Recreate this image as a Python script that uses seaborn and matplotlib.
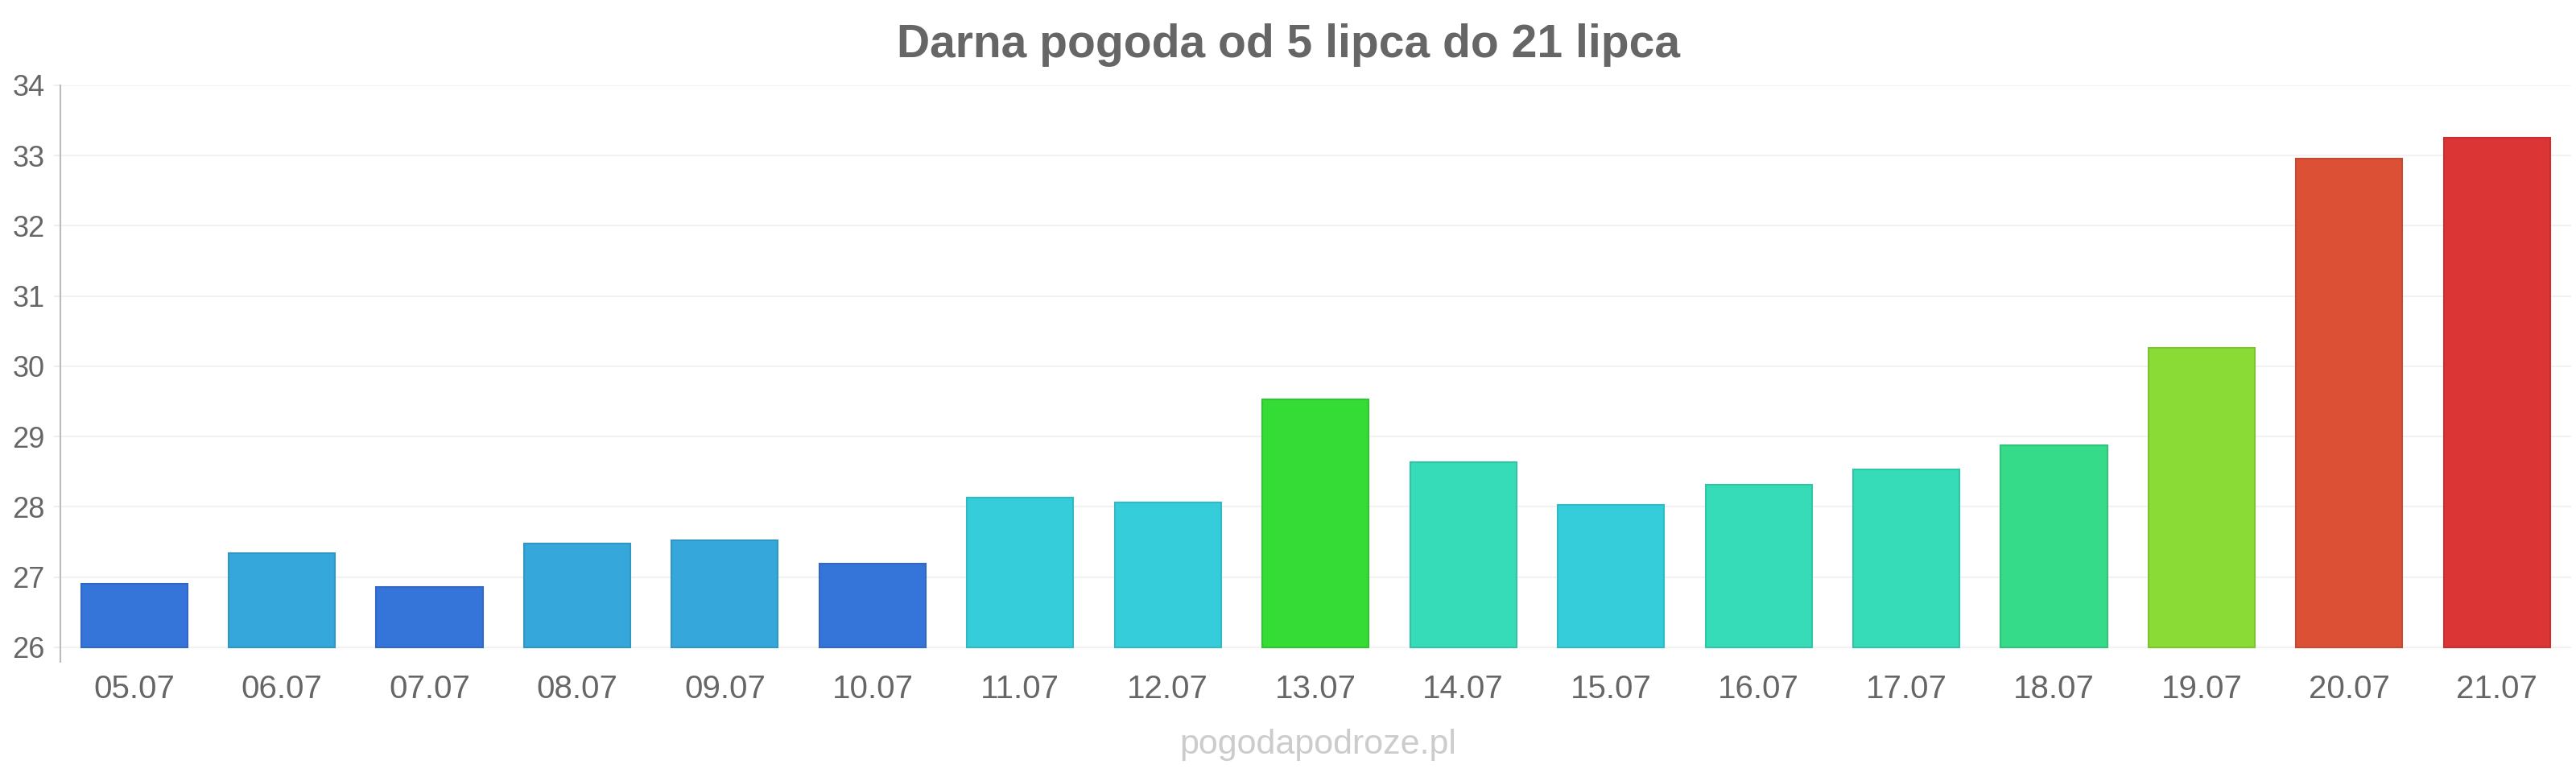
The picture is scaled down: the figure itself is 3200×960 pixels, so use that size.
import numpy as np
import pandas as pd
import matplotlib
matplotlib.use("Agg")
import matplotlib.pyplot as plt
import matplotlib.colors as mcolors
import seaborn as sns

# ---- data ----
dates = ["05.07", "06.07", "07.07", "08.07", "09.07", "10.07", "11.07", "12.07",
         "13.07", "14.07", "15.07", "16.07", "17.07", "18.07", "19.07", "20.07", "21.07"]
temps = [26.9, 27.34, 26.86, 27.48, 27.52, 27.19, 28.13, 28.06,
         29.53, 28.63, 28.03, 28.31, 28.53, 28.88, 30.26, 32.96, 33.25]
colors = ["#3574d9", "#36a7da", "#3574d9", "#36a7da", "#36a7da", "#3574d9", "#36cdda", "#36cdda",
          "#36dc36", "#36dbb8", "#36cdda", "#36dbb8", "#36dbb8", "#36db8a", "#8adb36", "#dc5136", "#dc3535"]
yticks = [26, 27, 28, 29, 30, 31, 32, 33, 34]
BASE = 26
title = "Darna pogoda od 5 lipca do 21 lipca"
watermark = "pogodapodroze.pl"

sns.set_style("white")
plt.rcParams["font.family"] = ["Liberation Sans", "DejaVu Sans"]

fig = plt.figure(figsize=(32, 9.6), dpi=100)
ax = fig.add_axes([0.0234, 0.1437, 0.9746, 0.7459])

df = pd.DataFrame({"date": dates, "temp": temps})
df["height"] = df["temp"] - BASE

sns.barplot(data=df, x="date", y="height", hue="date", palette=colors, legend=False,
            width=0.72, saturation=1, errorbar=None, bottom=BASE, ax=ax, zorder=3)

for p in ax.patches:
    fc = np.array(mcolors.to_rgb(p.get_facecolor()))
    p.set_edgecolor(tuple(fc * 0.9))
    p.set_linewidth(1.5)

ax.set_xlim(-0.5, len(dates) - 0.5)
ax.set_ylim(25.79, 34)
ax.set_yticks(yticks)
ax.set_yticklabels([str(t) for t in yticks])
ax.set_xlabel("")
ax.set_ylabel("")

ax.grid(axis="y", color="#f2f2f2", linewidth=1.5, zorder=0)
ax.grid(axis="x", visible=False)
for s in ["top", "right", "bottom"]:
    ax.spines[s].set_visible(False)
ax.spines["left"].set_color("#bbbbbb")
ax.spines["left"].set_linewidth(1.5)

ax.tick_params(axis="y", left=True, length=6, width=1.5, color="#eeeeee",
               labelsize=26, labelcolor="#666666", pad=8)
ax.tick_params(axis="x", bottom=False, labelsize=29, labelcolor="#666666", pad=7)

fig.text(0.5, 0.942, title, ha="center", va="center", fontsize=41,
         fontweight="bold", color="#666666")
fig.text(0.5115, 0.036, watermark, ha="center", va="center", fontsize=31,
         color="#cccccc")

fig.savefig("out.png", dpi=100, facecolor="white")
